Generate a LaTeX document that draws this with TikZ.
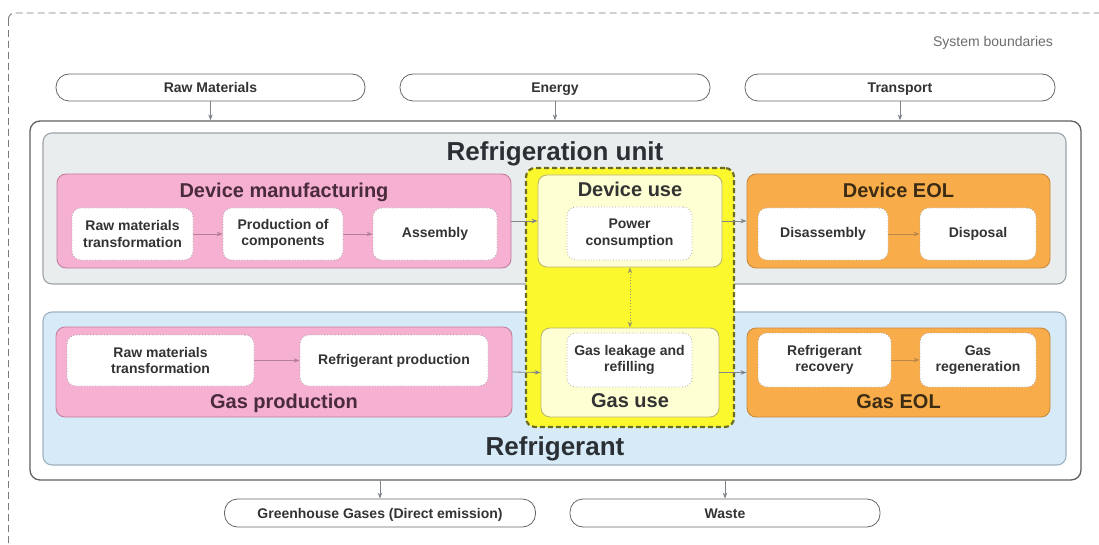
\documentclass[tikz,border=0pt]{standalone}
\usepackage{fontspec}
\setmainfont{Liberation Sans}
\usetikzlibrary{arrows.meta}

\definecolor{unitfill}{HTML}{E9EDEE}
\definecolor{unitline}{HTML}{9EA4A7}
\definecolor{refrfill}{HTML}{D7EAF8}
\definecolor{refrline}{HTML}{9FB2C0}
\definecolor{pinkfill}{HTML}{F6B0D2}
\definecolor{pinkline}{HTML}{C27F9E}
\definecolor{orangefill}{HTML}{F8AD4A}
\definecolor{orangeline}{HTML}{C98A3C}
\definecolor{usefill}{HTML}{FFFFD4}
\definecolor{useline}{HTML}{B9B66E}
\definecolor{zonefill}{HTML}{FBF92E}
\definecolor{zoneline}{HTML}{6E6B22}
\definecolor{txt}{HTML}{333333}
\definecolor{pinktxt}{HTML}{4A2B3B}
\definecolor{orangetxt}{HTML}{3D2C14}
\definecolor{titletxt}{HTML}{2B3035}
\definecolor{arrowgray}{HTML}{7F858A}
\definecolor{boundgray}{HTML}{7A7A7A}

\tikzset{
  boundary/.style={draw=boundgray, line width=0.9pt, dash pattern=on 7pt off 4pt, rounded corners=6pt},
  pill/.style={draw=gray!80!black, line width=0.8pt, fill=white, rounded corners=13pt,
    font=\fontsize{14}{16}\selectfont\bfseries, text=txt, inner sep=0pt, text height=10pt, text depth=0pt},
  frame/.style={draw=gray!75!black, line width=1.3pt, fill=white, rounded corners=10pt, inner sep=0pt},
  unitbox/.style={draw=unitline, line width=1.1pt, fill=unitfill, rounded corners=9pt, inner sep=0pt},
  refrbox/.style={draw=refrline, line width=1.1pt, fill=refrfill, rounded corners=9pt, inner sep=0pt},
  zonebox/.style={draw=zoneline, line width=2.2pt, dash pattern=on 5pt off 3pt, fill=zonefill, rounded corners=9pt, inner sep=0pt},
  pinkbox/.style={draw=pinkline, line width=0.9pt, fill=pinkfill, rounded corners=9pt, inner sep=0pt},
  orangebox/.style={draw=orangeline, line width=0.9pt, fill=orangefill, rounded corners=9pt, inner sep=0pt},
  usebox/.style={draw=useline, line width=0.9pt, fill=usefill, rounded corners=9pt, inner sep=0pt},
  stepbox/.style={draw=gray!70, line width=0.8pt, dotted, fill=white, rounded corners=9pt, inner sep=0pt,
    align=center, font=\fontsize{14}{16.5}\selectfont\bfseries, text=txt},
  bigtitle/.style={font=\fontsize{26}{28}\selectfont\bfseries, text=titletxt, inner sep=0pt},
  subtitle/.style={font=\fontsize{20}{22}\selectfont\bfseries, inner sep=0pt},
  flow/.style={draw=arrowgray, line width=0.8pt, -{Stealth[length=6pt,width=4.5pt]}},
}

\begin{document}
\begin{tikzpicture}[x=1pt,y=-1pt]
\useasboundingbox (0,0) rectangle (1099,545);

% system boundary (runs off the right and bottom edges)
\begin{scope}
  \clip (0,0) rectangle (1099,545);
  \draw[boundary] (8.5,13) rectangle (1115,565);
\end{scope}
\node[font=\fontsize{14}{16}\selectfont, text=gray!85!black, inner sep=0pt] (sysb) at (993,43) {System boundaries};

% inputs
\node[pill, minimum width=309pt, minimum height=27pt] (rawin) at (210.5,87.5) {Raw Materials};
\node[pill, minimum width=310pt, minimum height=27pt] (energy) at (555,87.5) {Energy};
\node[pill, minimum width=310pt, minimum height=27pt] (transport) at (900,87.5) {Transport};

% main frame and the two layers
\node[frame, minimum width=1051pt, minimum height=359pt] (outer) at (555.5,300.5) {};
\node[unitbox, minimum width=1023pt, minimum height=151pt] (unit) at (554.5,208.5) {};
\node[refrbox, minimum width=1023pt, minimum height=153pt] (refr) at (554.5,388.5) {};

% use phase zone
\node[zonebox, minimum width=208pt, minimum height=259pt] (zone) at (630,297.5) {};

% phase boxes
\node[pinkbox, minimum width=454pt, minimum height=94pt] (devman) at (284,221) {};
\node[usebox, minimum width=184pt, minimum height=92pt] (devuse) at (630,221) {};
\node[orangebox, minimum width=303pt, minimum height=94pt] (deveol) at (898.5,221) {};
\node[pinkbox, minimum width=456pt, minimum height=90pt] (gasprod) at (284,372) {};
\node[usebox, minimum width=178pt, minimum height=89pt] (gasuse) at (630,372.5) {};
\node[orangebox, minimum width=303pt, minimum height=89pt] (gaseol) at (898.5,372.5) {};

% titles
\node[bigtitle] (tunit) at (555,154) {Refrigeration unit};
\node[bigtitle] (trefr) at (555,449) {Refrigerant};
\node[subtitle, text=pinktxt] (tdevman) at (284,192.5) {Device manufacturing};
\node[subtitle, text=txt] (tdevuse) at (630,189.5) {Device use};
\node[subtitle, text=orangetxt] (tdeveol) at (898.5,190) {Device EOL};
\node[subtitle, text=pinktxt] (tgasprod) at (284,403) {Gas production};
\node[subtitle, text=txt] (tgasuse) at (630,400.5) {Gas use};
\node[subtitle, text=orangetxt] (tgaseol) at (898.5,401.5) {Gas EOL};

% process steps, device
\node[stepbox, minimum width=121pt, minimum height=52pt] (rmt1) at (132.5,234) {Raw materials\\transformation};
\node[stepbox, minimum width=120pt, minimum height=52pt] (comp) at (283,234) {Production of\\components};
\node[stepbox, minimum width=124pt, minimum height=52pt] (assy) at (435,234) {Assembly};
\node[stepbox, minimum width=125pt, minimum height=53pt] (power) at (629.5,233.5) {Power\\consumption};
\node[stepbox, minimum width=130pt, minimum height=52pt] (disasm) at (823,234) {Disassembly};
\node[stepbox, minimum width=116pt, minimum height=52pt] (disp) at (978,234) {Disposal};

% process steps, gas
\node[stepbox, minimum width=187pt, minimum height=51pt] (rmt2) at (160.5,360.5) {Raw materials\\transformation};
\node[stepbox, minimum width=188pt, minimum height=51pt] (rprod) at (394,360.5) {Refrigerant production};
\node[stepbox, minimum width=125pt, minimum height=54pt] (leak) at (629.5,360) {Gas leakage and\\refilling};
\node[stepbox, minimum width=133pt, minimum height=54pt] (recov) at (824.5,360) {Refrigerant\\recovery};
\node[stepbox, minimum width=116pt, minimum height=54pt] (regen) at (978,360) {Gas\\regeneration};

% outputs
\node[pill, minimum width=311pt, minimum height=28pt] (ghg) at (380,513) {Greenhouse Gases (Direct emission)};
\node[pill, minimum width=310pt, minimum height=28pt] (waste) at (725,513) {Waste};

% flows
\draw[flow] (rawin.south) -- (rawin.south |- outer.north);
\draw[flow] (energy.south) -- (energy.south |- outer.north);
\draw[flow] (transport.south) -- (transport.south |- outer.north);

\draw[flow, draw=pinkline!80!gray] (rmt1) -- (comp);
\draw[flow, draw=pinkline!80!gray] (comp) -- (assy);
\draw[flow, draw=orangeline!80!gray] (disasm) -- (disp);
\draw[flow, draw=pinkline!80!gray] (rmt2) -- (rprod);
\draw[flow, draw=orangeline!80!gray] (recov) -- (regen);

\draw[flow] (devman.east) -- (devuse.west);
\draw[flow] (devuse.east) -- (deveol.west);
\draw[flow] (gasprod.east) -- (gasuse.west);
\draw[flow] (gasuse.east) -- (gaseol.west);

\draw[draw=zoneline!70, line width=0.9pt, dotted, {Stealth[length=6pt,width=4.5pt]}-{Stealth[length=6pt,width=4.5pt]}] (devuse.south) -- (gasuse.north);

\draw[flow] (ghg.north |- outer.south) -- (ghg.north);
\draw[flow] (waste.north |- outer.south) -- (waste.north);
\end{tikzpicture}
\end{document}
